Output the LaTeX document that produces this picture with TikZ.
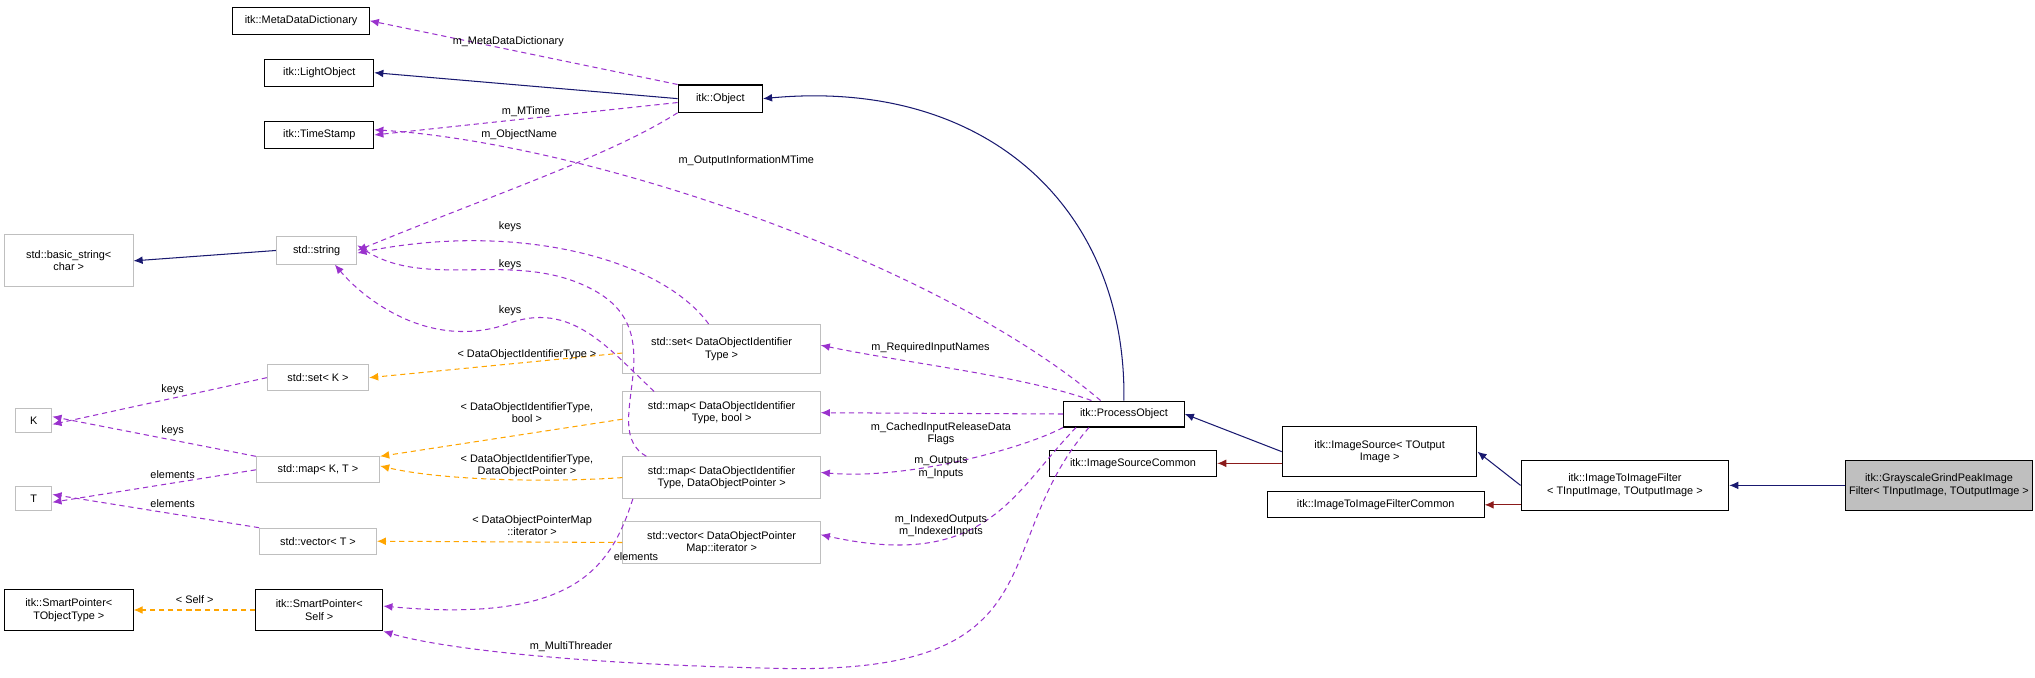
\documentclass[tikz,border=0pt]{standalone}
\usepackage{fontspec}
\setmainfont{Liberation Sans}
\usetikzlibrary{arrows.meta}
\definecolor{navy}{HTML}{191970}
\definecolor{purp}{HTML}{9A32CD}
\definecolor{orng}{HTML}{FFA500}
\definecolor{dred}{HTML}{8B1A1A}
\definecolor{gbord}{HTML}{BFBFBF}
\begin{document}
\begin{tikzpicture}[x=1pt,y=-1pt,
  every node/.style={font=\fontsize{8.4}{9.6}\selectfont, align=center, inner sep=0pt},
  bk/.style={draw=black, line width=0.8pt, fill=white},
  gy/.style={draw=gbord, line width=0.8pt, fill=white},
  lab/.style={font=\fontsize{8.4}{9.6}\selectfont, align=center},
  tip/.style={-{Latex[length=7pt,width=6pt]}},
  inh/.style={tip, draw=navy, line width=0.8pt},
  prv/.style={tip, draw=dred, line width=0.8pt},
  use/.style={tip, draw=purp, dashed, dash pattern=on 4pt off 3pt, line width=0.8pt},
  tmp/.style={tip, draw=orng, dashed, dash pattern=on 4pt off 3pt, line width=0.8pt}]
\useasboundingbox (0,0) rectangle (1568,522);
% nodes
\node[bk, minimum width=105, minimum height=21] (md) at (232,16) {itk::MetaDataDictionary};
\node[bk, minimum width=84, minimum height=21] (lo) at (246,56) {itk::LightObject};
\node[bk, minimum width=84, minimum height=21] (ts) at (246,104) {itk::TimeStamp};
\node[bk, minimum width=65, minimum height=21] (ob) at (555,76) {itk::Object};
\node[gy, minimum width=99, minimum height=40] (bs) at (53,201) {std::basic\_string<\\char >};
\node[gy, minimum width=62, minimum height=21] (st) at (244,193) {std::string};
\node[gy, minimum width=152, minimum height=38] (sd) at (556,269) {std::set< DataObjectIdentifier\\Type >};
\node[gy, minimum width=78, minimum height=20] (sk) at (245,291) {std::set< K >};
\node[gy, minimum width=28, minimum height=19] (K) at (26,324) {K};
\node[gy, minimum width=152, minimum height=32] (mb) at (556,318) {std::map< DataObjectIdentifier\\Type, bool >};
\node[gy, minimum width=95, minimum height=20] (mk) at (245,362) {std::map< K, T >};
\node[gy, minimum width=28, minimum height=19] (T) at (26,384) {T};
\node[gy, minimum width=152, minimum height=32] (mp) at (556,368) {std::map< DataObjectIdentifier\\Type, DataObjectPointer >};
\node[gy, minimum width=90, minimum height=20] (vt) at (245,417) {std::vector< T >};
\node[gy, minimum width=152, minimum height=32] (vd) at (556,418) {std::vector< DataObjectPointer\\Map::iterator >};
\node[bk, minimum width=99, minimum height=32] (spt) at (53,470) {itk::SmartPointer<\\TObjectType >};
\node[bk, minimum width=98, minimum height=32] (sps) at (246,470) {itk::SmartPointer<\\Self >};
\node[bk, minimum width=93, minimum height=20] (po) at (866,319) {itk::ProcessObject};
\node[bk, minimum width=129, minimum height=20] (isc) at (873,357) {itk::ImageSourceCommon};
\node[bk, minimum width=150, minimum height=39] (is) at (1063,348) {itk::ImageSource< TOutput\\Image >};
\node[bk, minimum width=167, minimum height=20] (iic) at (1060,389) {itk::ImageToImageFilterCommon};
\node[bk, minimum width=160, minimum height=38] (ii) at (1252,374) {itk::ImageToImageFilter\\< TInputImage, TOutputImage >};
\node[bk, fill=gbord, inner xsep=3pt, minimum height=38] (gg) at (1494,374) {itk::GrayscaleGrindPeakImage\\Filter< TInputImage, TOutputImage >};
% inheritance
\draw[inh] (ob.west) -- (lo.east);
\draw[inh] (po.north) .. controls (868,160) and (760,60) .. (ob.east);
\draw[inh] (st.west) -- (bs.east);
\draw[inh] (is.west) -- (po.east);
\draw[inh] (ii.west) -- (is.east);
\draw[inh] (gg.west) -- (ii.east);
\draw[prv] (is.west |- isc.east) -- (isc.east);
\draw[prv] (ii.west |- iic.east) -- (iic.east);
% usage
\draw[use] (ob.north west) -- (md.east) node[lab, pos=0.55, above=2pt] {m\_MetaDataDictionary};
\draw[use] (ob.west) ++(0,3) -- (ts.east) node[lab, pos=0.5, above=1pt] {m\_MTime};
\draw[use] (ob.south west) .. controls (470,120) and (380,150) .. (st.east);
\node[lab] (lon) at (400,104) {m\_ObjectName};
\draw[use] (po.north) ++(-18,0) .. controls (720,200) and (450,110) .. ([yshift=4pt]ts.east);
\node[lab] (loi) at (575,124) {m\_OutputInformationMTime};
\draw[use] (sd.north) ++(-10,0) .. controls (510,200) and (400,170) .. ([yshift=-2pt]st.east);
\node[lab] (lk1) at (393,175) {keys};
\draw[use] (mp.north) ++(-58,0) .. controls (460,330) and (520,260) .. (460,225) .. controls (400,190) and (330,225) .. ([yshift=4pt]st.east);
\node[lab] (lk2) at (393,204) {keys};
\draw[use] (mb.north) ++(-52,0) .. controls (470,270) and (440,230) .. (390,250) .. controls (330,270) and (280,230) .. ([xshift=14pt]st.south);
\node[lab] (lk3) at (393,239) {keys};
\draw[use] (sk.west) -- ([yshift=-3pt]K.east);
\node[lab] (lkk1) at (133,300) {keys};
\draw[use] (mk.north west) -- ([yshift=3pt]K.east);
\node[lab] (lkk2) at (133,332) {keys};
\draw[use] (mk.west) -- ([yshift=-3pt]T.east);
\node[lab] (le1) at (133,366) {elements};
\draw[use] (vt.north west) -- ([yshift=3pt]T.east);
\node[lab] (le2) at (133,388) {elements};
\draw[use] (mp.south west) ++(8,0) .. controls (470,440) and (440,480) .. ([yshift=3pt]sps.east);
\node[lab] (lel) at (490,429) {elements};
\draw[use] (po.north) ++(-25,0) .. controls (790,290) and (700,280) .. ([yshift=3pt]sd.east);
\node[lab] (lri) at (717,268) {m\_RequiredInputNames};
\draw[use] (po.west) -- (mb.east);
\node[lab] (lci) at (725,334) {m\_CachedInputReleaseData\\Flags};
\draw[use] (po.south west) .. controls (790,345) and (700,370) .. ([yshift=4pt]mp.east);
\node[lab] (lou) at (725,360) {m\_Outputs\\m\_Inputs};
\draw[use] (po.south west) ++(10,0) .. controls (780,380) and (760,440) .. ([yshift=6pt]vd.east);
\node[lab] (lio) at (725,405) {m\_IndexedOutputs\\m\_IndexedInputs};
\draw[use] (po.south west) ++(20,0) .. controls (760,420) and (820,520) .. (600,515) .. controls (450,512) and (340,500) .. (sps.south east);
\node[lab] (lmt) at (440,498) {m\_MultiThreader};
% templates
\draw[tmp] ([yshift=-3pt]sd.west) -- (sk.east);
\node[lab] (lt1) at (406,273) {< DataObjectIdentifierType >};
\draw[tmp] (mb.west) ++(0,5) -- (mk.north east);
\node[lab] (lt2) at (406,318) {< DataObjectIdentifierType,\\bool >};
\draw[tmp] (mp.west) .. controls (420,372) and (340,370) .. ([yshift=3pt]mk.east);
\node[lab] (lt3) at (406,359) {< DataObjectIdentifierType,\\DataObjectPointer >};
\draw[tmp] (vd.west) -- (vt.east);
\node[lab] (lt4) at (410,405) {< DataObjectPointerMap\\::iterator >};
\draw[tmp] (sps.west) -- (spt.east);
\node[lab] (lt5) at (150,462) {< Self >};
\end{tikzpicture}
\end{document}
